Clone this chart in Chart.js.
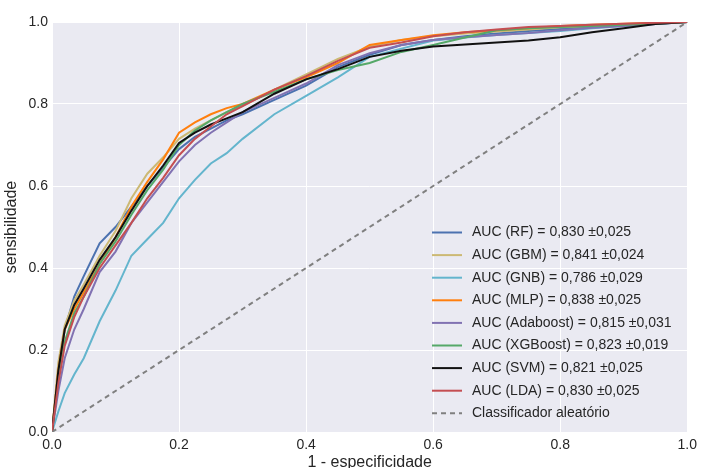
<!DOCTYPE html>
<html>
<head>
<meta charset="utf-8">
<script src="https://cdn.jsdelivr.net/npm/chart.js@4"></script>
<style>
  html, body { margin: 0; padding: 0; background: #fff; }
  #wrap { width: 702px; height: 468px; }
</style>
</head>
<body>
<div id="wrap"><canvas id="rocChart" width="702" height="468"></canvas></div>
<script>
// false positive rate grid shared by every curve
const fpr = [0, 0.01, 0.02, 0.035, 0.05, 0.075, 0.1, 0.125, 0.15, 0.175, 0.2, 0.225, 0.25, 0.275, 0.3, 0.35, 0.4, 0.45, 0.5, 0.55, 0.6, 0.65, 0.7, 0.75, 0.8, 0.85, 0.9, 0.95, 1];

// true positive rate
const tprRF   = [0, 0.15, 0.25, 0.33, 0.38, 0.46, 0.50, 0.55, 0.60, 0.645, 0.69, 0.72, 0.74, 0.76, 0.775, 0.81, 0.845, 0.89, 0.92, 0.944, 0.956, 0.965, 0.972, 0.978, 0.983, 0.988, 0.992, 0.996, 1];
const tprGBM  = [0, 0.17, 0.26, 0.32, 0.36, 0.43, 0.49, 0.57, 0.63, 0.67, 0.715, 0.74, 0.76, 0.78, 0.795, 0.835, 0.872, 0.91, 0.94, 0.956, 0.965, 0.972, 0.977, 0.982, 0.987, 0.99, 0.994, 0.997, 1];
const tprGNB  = [0, 0.05, 0.095, 0.14, 0.18, 0.27, 0.345, 0.43, 0.47, 0.51, 0.57, 0.615, 0.655, 0.68, 0.715, 0.775, 0.82, 0.865, 0.915, 0.935, 0.955, 0.962, 0.968, 0.973, 0.978, 0.985, 0.99, 0.995, 1];
const tprMLP  = [0, 0.15, 0.25, 0.30, 0.34, 0.41, 0.475, 0.55, 0.61, 0.665, 0.73, 0.755, 0.775, 0.79, 0.80, 0.835, 0.865, 0.90, 0.944, 0.956, 0.968, 0.975, 0.98, 0.985, 0.99, 0.993, 0.996, 0.998, 1];
const tprAda  = [0, 0.10, 0.18, 0.25, 0.30, 0.39, 0.44, 0.51, 0.56, 0.61, 0.66, 0.70, 0.73, 0.755, 0.78, 0.815, 0.85, 0.895, 0.924, 0.944, 0.956, 0.963, 0.968, 0.973, 0.98, 0.986, 0.99, 0.995, 1];
const tprXGB  = [0, 0.13, 0.22, 0.29, 0.33, 0.41, 0.465, 0.53, 0.59, 0.64, 0.70, 0.735, 0.76, 0.78, 0.80, 0.83, 0.86, 0.883, 0.90, 0.927, 0.944, 0.962, 0.98, 0.985, 0.988, 0.99, 0.993, 0.996, 1];
const tprSVM  = [0, 0.15, 0.25, 0.31, 0.35, 0.42, 0.475, 0.54, 0.60, 0.65, 0.705, 0.73, 0.75, 0.765, 0.78, 0.825, 0.86, 0.885, 0.915, 0.93, 0.94, 0.945, 0.95, 0.955, 0.963, 0.975, 0.985, 0.995, 1];
const tprLDA  = [0, 0.12, 0.21, 0.28, 0.33, 0.40, 0.455, 0.51, 0.57, 0.62, 0.675, 0.715, 0.745, 0.775, 0.795, 0.835, 0.868, 0.905, 0.937, 0.95, 0.965, 0.975, 0.982, 0.988, 0.99, 0.993, 0.996, 0.998, 1];

// chance line
const diagX = [0, 1];
const diagY = [0, 1];

const modelLabels = [
  'AUC (RF) = 0,830 \u00b10,025',
  'AUC (GBM) = 0,841 \u00b10,024',
  'AUC (GNB) = 0,786 \u00b10,029',
  'AUC (MLP) = 0,838 \u00b10,025',
  'AUC (Adaboost) = 0,815 \u00b10,031',
  'AUC (XGBoost) = 0,823 \u00b10,019',
  'AUC (SVM) = 0,821 \u00b10,025',
  'AUC (LDA) = 0,830 \u00b10,025'
];
const diagLabel = 'Classificador aleat\u00f3rio';
const modelTpr = [tprRF, tprGBM, tprGNB, tprMLP, tprAda, tprXGB, tprSVM, tprLDA];
const modelColors = ['#4C72B0', '#CCB974', '#64B5CD', '#FF7F0E', '#8172B2', '#55A868', '#111111', '#C44E52'];

const xTicks = [0, 0.2, 0.4, 0.6, 0.8, 1.0];
const yTicks = [0, 0.2, 0.4, 0.6, 0.8, 1.0];

const FONT = "'Liberation Sans', Arial, sans-serif";
const TXT = '#262626';

function toPoints(xs, ys) {
  return xs.map((x, i) => ({x: x, y: ys[i]}));
}

const datasets = modelTpr.map((tpr, i) => ({
  label: modelLabels[i],
  data: toPoints(fpr, tpr),
  borderColor: modelColors[i],
  borderWidth: 2,
  pointRadius: 0,
  fill: false,
  tension: 0,
  order: 20 - i
}));
datasets.push({
  label: diagLabel,
  data: toPoints(diagX, diagY),
  borderColor: '#808080',
  borderWidth: 2,
  borderDash: [5, 4],
  pointRadius: 0,
  fill: false,
  order: 0
});

// seaborn-like grey panel behind the plot
const panelBg = {
  id: 'panelBg',
  beforeDraw(chart) {
    const {ctx, chartArea: a} = chart;
    ctx.save();
    ctx.fillStyle = '#EAEAF2';
    ctx.fillRect(a.left, a.top, a.right - a.left, a.bottom - a.top);
    ctx.restore();
  }
};

// legend drawn inside the plot, lower right, no frame
const innerLegend = {
  id: 'innerLegend',
  afterDatasetsDraw(chart) {
    const ctx = chart.ctx;
    const x0 = 432, x1 = 462, tx = 472, y0 = 232.5, step = 22.6;
    ctx.save();
    ctx.font = '14px ' + FONT;
    ctx.textBaseline = 'middle';
    ctx.textAlign = 'left';
    chart.data.datasets.forEach((ds, i) => {
      const y = y0 + i * step;
      ctx.strokeStyle = ds.borderColor;
      ctx.lineWidth = 2;
      ctx.setLineDash(ds.borderDash || []);
      ctx.beginPath();
      ctx.moveTo(x0, y);
      ctx.lineTo(x1, y);
      ctx.stroke();
      ctx.setLineDash([]);
      ctx.fillStyle = TXT;
      ctx.fillText(ds.label, tx, y);
    });
    ctx.restore();
  }
};

const ctx = document.getElementById('rocChart').getContext('2d');
new Chart(ctx, {
  type: 'line',
  data: { datasets: datasets },
  options: {
    responsive: false,
    animation: false,
    layout: { padding: { top: 22, right: 14, left: 0, bottom: 0 } },
    plugins: {
      legend: { display: false },
      tooltip: { enabled: false }
    },
    scales: {
      x: {
        type: 'linear',
        min: 0, max: 1,
        afterBuildTicks: (s) => { s.ticks = xTicks.map(v => ({value: v})); },
        afterFit: (s) => { s.height = 36; },
        grid: { color: '#ffffff', lineWidth: 1, drawTicks: false },
        border: { display: false },
        ticks: {
          color: TXT, padding: 5, maxRotation: 0, autoSkip: false,
          font: { family: FONT, size: 14 },
          callback: (v) => Number(v).toFixed(1)
        },
        title: {
          display: true, text: '1 - especificidade', color: TXT,
          font: { family: FONT, size: 16 },
          padding: { top: 0, bottom: -4 }
        }
      },
      y: {
        type: 'linear',
        min: 0, max: 1,
        afterBuildTicks: (s) => { s.ticks = yTicks.map(v => ({value: v})); },
        afterFit: (s) => { s.width = 52; },
        grid: { color: '#ffffff', lineWidth: 1, drawTicks: false },
        border: { display: false },
        ticks: {
          color: TXT, padding: 4,
          font: { family: FONT, size: 14 },
          callback: (v) => Number(v).toFixed(1)
        },
        title: {
          display: true, text: 'sensibilidade', color: TXT,
          font: { family: FONT, size: 16 },
          padding: { top: 2, bottom: 0 }
        }
      }
    }
  },
  plugins: [panelBg, innerLegend]
});
</script>
</body>
</html>
